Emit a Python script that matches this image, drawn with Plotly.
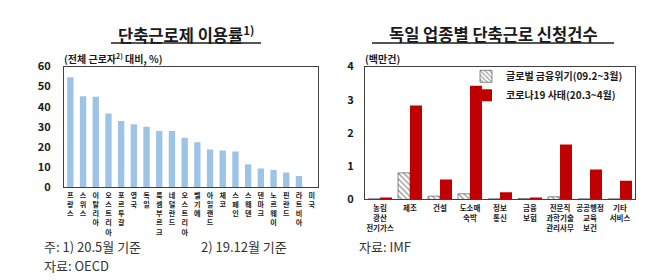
import plotly.graph_objects as go

# ---------------- data ----------------
countries = ["프랑스", "스위스", "이탈리아", "오스트리아", "포르투갈", "영국", "독일", "룩셈부르크",
             "네덜란드", "오스트리아", "벨기에", "아일랜드", "체코", "스페인", "스웨덴", "덴마크",
             "노르웨이", "핀란드", "라트비아", "미국"]
usage_rate = [54.7, 45.2, 45.0, 36.6, 32.9, 31.3, 30.1, 28.0, 28.0, 24.6, 22.4, 18.8, 18.2,
              17.7, 11.4, 9.3, 8.5, 7.3, 5.6, 0.0]
left_yticks = [0, 10, 20, 30, 40, 50, 60]

sectors = ["농림<br>광산<br>전기가스", "제조", "건설", "도소매<br>숙박", "정보<br>통신", "금융<br>보험",
           "전문직<br>과학기술<br>관리사무", "공공행정<br>교육<br>보건", "기타<br>서비스"]
gfc_2009 = [0.02, 0.80, 0.10, 0.17, 0.02, 0.03, 0.08, 0.02, 0.02]
covid_2020 = [0.06, 2.83, 0.60, 3.42, 0.22, 0.05, 1.65, 0.90, 0.56]
right_yticks = [0, 1, 2, 3, 4]

W, H = 658, 280
FONT = "Noto Sans CJK KR"


def px(x):
    return x / W


def py(y):
    return (H - y) / H


fig = go.Figure()

fig.add_trace(go.Bar(x=list(range(len(countries))), y=usage_rate, marker_color="#9DC3E6",
                     marker_line_width=0, width=0.5, showlegend=False, xaxis="x", yaxis="y"))

fig.add_trace(go.Bar(x=list(range(len(sectors))), y=gfc_2009, name="글로벌 금융위기(09.2~3월)",
                     marker=dict(color="white", line=dict(color="#404040", width=0.6),
                                 pattern=dict(shape="\\", fgcolor="#333333", bgcolor="white",
                                              size=4, solidity=0.35)),
                     xaxis="x2", yaxis="y2"))
fig.add_trace(go.Bar(x=list(range(len(sectors))), y=covid_2020, name="코로나19 사태(20.3~4월)",
                     marker=dict(color="#C00000", line_width=0),
                     xaxis="x2", yaxis="y2"))

axis_line = dict(showline=True, linecolor="#404040", linewidth=1, mirror=True,
                 showgrid=False, zeroline=False)

vertical_names = ["<br>".join(list(name)) for name in countries]

fig.update_layout(
    width=W, height=H, margin=dict(l=0, r=0, t=0, b=0),
    paper_bgcolor="white", plot_bgcolor="white",
    font=dict(family=FONT, color="#1a1a1a"),
    barmode="group", bargap=0.2, bargroupgap=0,
    xaxis=dict(domain=[px(64), px(318)], range=[-0.5, len(countries) - 0.5],
               tickvals=list(range(len(countries))), ticktext=vertical_names, tickangle=0,
               ticks="", ticklabelstandoff=1,
               tickfont=dict(size=7.1, family=FONT, color="#1a1a1a", weight="bold"), **axis_line),
    yaxis=dict(domain=[py(189), py(61)], range=[0, 60], tickvals=left_yticks,
               ticks="", ticklabelstandoff=10,
               tickfont=dict(size=11, family=FONT, color="#1a1a1a", weight="bold"), **axis_line),
    xaxis2=dict(domain=[px(365), px(635)], range=[-0.5, len(sectors) - 0.5], anchor="y2",
                tickvals=list(range(len(sectors))), ticktext=sectors, ticks="", tickangle=0,
                ticklabelstandoff=2,
                tickfont=dict(size=7.5, family=FONT, color="#1a1a1a", weight="bold"), **axis_line),
    yaxis2=dict(domain=[py(202), py(61)], range=[0, 4], tickvals=right_yticks, anchor="x2",
                ticks="", ticklabelstandoff=8,
                tickfont=dict(size=11, family=FONT, color="#1a1a1a", weight="bold"), **axis_line),
    legend=dict(x=px(466), y=py(56), xanchor="left", yanchor="top", bgcolor="rgba(0,0,0,0)",
                font=dict(size=10, family=FONT, color="#1a1a1a", weight="bold"),
                itemwidth=30, tracegroupgap=0),
)

ann = []
# titles
ann.append(dict(x=px(186), y=py(27), xref="paper", yref="paper", showarrow=False,
                text="단축근로제 이용률<sup>1)</sup>", xanchor="center", yanchor="middle",
                font=dict(size=16.5, family=FONT, color="#1a1a1a", weight="bold")))
ann.append(dict(x=px(493), y=py(27), xref="paper", yref="paper", showarrow=False,
                text="독일 업종별 단축근로 신청건수", xanchor="center", yanchor="middle",
                font=dict(size=16.5, family=FONT, color="#1a1a1a", weight="bold")))
# unit labels
ann.append(dict(x=px(62), y=py(53), xref="paper", yref="paper", showarrow=False,
                text="(전체 근로자<sup>2)</sup> 대비, %)", xanchor="left", yanchor="middle",
                font=dict(size=10, family=FONT, color="#1a1a1a", weight="bold")))
ann.append(dict(x=px(363), y=py(53), xref="paper", yref="paper", showarrow=False,
                text="(백만건)", xanchor="left", yanchor="middle",
                font=dict(size=10, family=FONT, color="#1a1a1a", weight="bold")))
# footnotes
foot = dict(size=13, family=FONT, color="#333333")
ann.append(dict(x=px(43), y=py(252), xref="paper", yref="paper", showarrow=False, borderpad=0,
                text="주: 1) 20.5월 기준", xanchor="left", yanchor="middle", font=foot))
ann.append(dict(x=px(200), y=py(252), xref="paper", yref="paper", showarrow=False, borderpad=0,
                text="2) 19.12월 기준", xanchor="left", yanchor="middle", font=foot))
ann.append(dict(x=px(43), y=py(272), xref="paper", yref="paper", showarrow=False, borderpad=0,
                text="자료: OECD", xanchor="left", yanchor="middle", font=foot))
ann.append(dict(x=px(358), y=py(252), xref="paper", yref="paper", showarrow=False, borderpad=0,
                text="자료: IMF", xanchor="left", yanchor="middle", font=foot))

fig.update_layout(annotations=ann)

# title underlines
fig.add_shape(type="line", xref="paper", yref="paper", x0=px(111), x1=px(261), y0=py(36), y1=py(36),
              line=dict(color="#555555", width=2))
fig.add_shape(type="line", xref="paper", yref="paper", x0=px(372), x1=px(614), y0=py(36), y1=py(36),
              line=dict(color="#555555", width=2))

fig.write_html("out.html")
